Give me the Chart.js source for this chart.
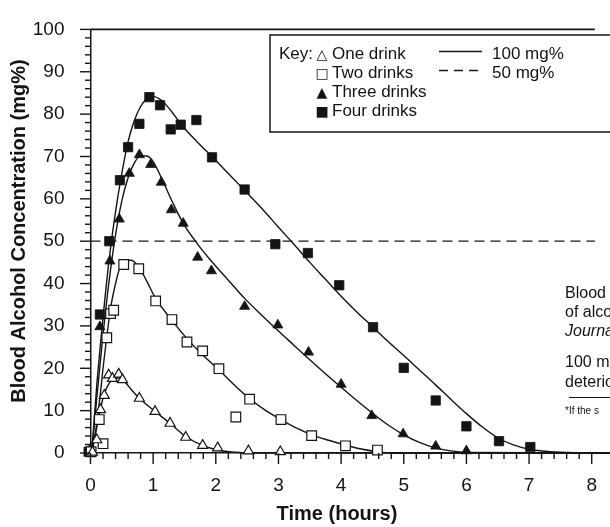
<!DOCTYPE html>
<html>
<head>
<meta charset="utf-8">
<script src="https://cdn.jsdelivr.net/npm/chart.js@4.4.1/dist/chart.umd.min.js"></script>
<style>
html,body{margin:0;padding:0;background:#fff;overflow:hidden}
canvas{display:block}
</style>
</head>
<body>
<canvas id="c" width="610" height="527"></canvas>
<script>
// ---------- data ----------
const yTickValues = [0, 10, 20, 30, 40, 50, 60, 70, 80, 90, 100];
const xTickValues = [0, 1, 2, 3, 4, 5, 6, 7, 8];

// measured points
const oneDrinkTimes    = [0.03, 0.10, 0.16, 0.22, 0.29, 0.35, 0.45, 0.51, 0.78, 1.03, 1.27, 1.52, 1.79, 2.03, 2.52, 3.03];
const oneDrinkValues   = [0.2, 3.1, 10.2, 13.6, 18.4, 17.6, 18.6, 17.3, 12.9, 9.8, 7.0, 3.7, 1.8, 1.2, 0.5, 0.3];
const twoDrinkTimes    = [0.01, 0.14, 0.20, 0.26, 0.32, 0.37, 0.53, 0.77, 1.04, 1.30, 1.54, 1.79, 2.05, 2.32, 2.54, 3.04, 3.53, 4.07, 4.58];
const twoDrinkValues   = [0.3, 7.9, 2.2, 27.2, 32.9, 33.7, 44.5, 43.5, 35.9, 31.5, 26.2, 24.1, 19.9, 8.5, 12.7, 7.9, 4.1, 1.7, 0.7];
const threeDrinkTimes  = [0.0, 0.15, 0.31, 0.46, 0.62, 0.78, 0.96, 1.13, 1.29, 1.48, 1.71, 1.93, 2.46, 2.99, 3.48, 4.00, 4.49, 4.99, 5.51, 6.00];
const threeDrinkValues = [1.0, 29.8, 45.3, 55.2, 66.0, 70.4, 68.1, 63.9, 57.4, 54.2, 46.2, 43.0, 34.6, 30.2, 23.8, 16.2, 8.8, 4.5, 1.6, 0.5];
const fourDrinkTimes   = [-0.03, 0.15, 0.30, 0.47, 0.60, 0.78, 0.94, 1.11, 1.28, 1.44, 1.69, 1.94, 2.46, 2.95, 3.47, 3.97, 4.51, 5.00, 5.51, 6.00, 6.52, 7.02];
const fourDrinkValues  = [0.3, 32.7, 50.0, 64.4, 72.2, 77.7, 84.0, 82.1, 76.4, 77.5, 78.6, 69.8, 62.2, 49.3, 47.2, 39.6, 29.7, 20.1, 12.4, 6.3, 2.8, 1.4];

// fitted curves
const oneCurveTimes    = [0.02, 0.10, 0.16, 0.22, 0.30, 0.38, 0.45, 0.52, 0.65, 0.78, 1.03, 1.27, 1.52, 1.79, 2.03, 2.30, 2.50, 8.30];
const oneCurveValues   = [0, 6, 10.5, 14, 16.5, 17.5, 17.7, 17.2, 15, 12.9, 9.8, 7.0, 3.9, 1.8, 0.7, 0.2, 0, 0];
const twoCurveTimes    = [0.02, 0.08, 0.15, 0.20, 0.26, 0.33, 0.40, 0.46, 0.55, 0.65, 0.79, 0.90, 1.04, 1.30, 1.54, 1.80, 2.06, 2.30, 2.54, 2.80, 3.04, 3.30, 3.53, 3.80, 4.06, 4.30, 4.58, 4.80, 8.30];
const twoCurveValues   = [0, 5, 13, 20, 27.5, 35, 40, 43.3, 45.2, 45.5, 43.5, 40.5, 36.5, 31.3, 27, 23, 19.5, 16, 12.8, 10, 7.9, 5.8, 4.3, 3, 1.9, 1, 0.3, 0, 0];
const threeCurveTimes  = [0.02, 0.10, 0.20, 0.30, 0.40, 0.50, 0.60, 0.70, 0.80, 0.90, 1.00, 1.13, 1.30, 1.48, 1.70, 1.90, 2.20, 2.46, 2.75, 3.00, 3.25, 3.50, 3.75, 4.00, 4.25, 4.50, 4.75, 5.00, 5.25, 5.50, 5.75, 6.00, 8.30];
const threeCurveValues = [0, 13, 28, 41, 51.5, 59.5, 65, 68.5, 70.2, 70.1, 68.8, 65, 59.5, 54.2, 49.5, 45.8, 40.8, 36.5, 32.3, 28.8, 25.4, 22, 18.7, 15.5, 12.4, 9.4, 6.6, 4.3, 2.5, 1.2, 0.5, 0.15, 0];
const fourCurveTimes   = [0.02, 0.10, 0.20, 0.30, 0.40, 0.50, 0.60, 0.70, 0.80, 0.90, 1.00, 1.10, 1.20, 1.30, 1.45, 1.70, 1.95, 2.20, 2.46, 2.75, 3.00, 3.25, 3.50, 3.75, 4.00, 4.25, 4.51, 4.75, 5.00, 5.25, 5.50, 5.75, 6.00, 6.25, 6.50, 6.75, 7.00, 7.50, 8.30];
const fourCurveValues  = [0, 16, 32, 46, 57, 66, 73.5, 78.5, 81.8, 83.6, 84.2, 83.6, 82.3, 80.5, 77.5, 73.5, 69.8, 66, 62, 57.5, 53.3, 49.2, 45, 41, 37, 33.3, 29.7, 26.3, 23, 19.6, 16.2, 12.7, 9.3, 6.2, 3.6, 1.9, 0.9, 0.2, 0];

// reference levels (mg%)
const referenceLevels = [100, 50];

// legend / annotation texts
const legendLabels  = ['One drink', 'Two drinks', 'Three drinks', 'Four drinks'];
const legendSymbols = ['\u25B3', '\u25A1', '\u25B2', '\u25A0'];
const referenceLabels = ['100 mg%', '50 mg%'];
const sideTextLines = ['Blood', 'of alco', 'Journa', '100 m', 'deterio'];
const footnoteText = '*If the s';
const xTitle = 'Time (hours)';
const yTitle = 'Blood Alcohol Concentration (mg%)';

// ---------- build ----------
const INK = '#141414';
const FONT = '"Liberation Sans", Arial, Helvetica, sans-serif';
const X_MAX = 8.05;
const pts = (xs, ys) => xs.map((x, i) => ({x: x, y: ys[i]}));

function markerSet(label, xs, ys, style, filled, r) {
  return {
    label, data: pts(xs, ys), showLine: false,
    pointStyle: style, pointRadius: r, pointHoverRadius: r,
    pointBackgroundColor: filled ? INK : '#ffffff',
    pointBorderColor: INK, pointBorderWidth: filled ? 0.8 : 1.2,
    clip: false
  };
}
function curveSet(label, xs, ys) {
  return {
    label, data: pts(xs, ys), showLine: true, pointRadius: 0,
    borderColor: INK, borderWidth: 1.4, fill: false,
    cubicInterpolationMode: 'monotone', clip: false
  };
}
function levelSet(label, level, dash) {
  return {
    label, data: [{x: 0, y: level}, {x: X_MAX, y: level}], showLine: true, pointRadius: 0,
    borderColor: INK, borderWidth: dash ? 1.3 : 1.6, borderDash: dash || [], fill: false, clip: false
  };
}

const decor = {
  id: 'decor',
  afterDraw(chart) {
    const ctx = chart.ctx;
    const xs = chart.scales.x, ys = chart.scales.y;
    const L = chart.chartArea.left, B = chart.chartArea.bottom;
    ctx.save();
    ctx.strokeStyle = INK; ctx.fillStyle = INK; ctx.lineWidth = 1.4;
    // y tick marks (major every 10, minor every 2)
    for (let v = 0; v <= 100; v += 2) {
      const y = ys.getPixelForValue(v);
      const len = v % 10 === 0 ? 10.5 : 5.5;
      ctx.beginPath(); ctx.moveTo(L - len, y); ctx.lineTo(L, y); ctx.stroke();
    }
    // x tick marks (major every 1 h, minor every 0.2 h)
    for (let i = 0; i * 0.2 <= X_MAX + 1e-9; i++) {
      const x = xs.getPixelForValue(i * 0.2);
      const len = i % 5 === 0 ? 11 : 6;
      ctx.beginPath(); ctx.moveTo(x, B); ctx.lineTo(x, B + len); ctx.stroke();
    }
    // axis titles
    ctx.font = 'bold 20px ' + FONT;
    ctx.textAlign = 'center'; ctx.textBaseline = 'alphabetic';
    ctx.fillText(xTitle, 337, 520);
    ctx.save();
    ctx.translate(19, 231);
    ctx.rotate(-Math.PI / 2);
    ctx.textBaseline = 'middle';
    ctx.fillText(yTitle, 0, 0);
    ctx.restore();
    ctx.textBaseline = 'alphabetic';

    // key box
    ctx.lineWidth = 1.5;
    ctx.strokeRect(270, 35, 360, 97);
    ctx.textAlign = 'left';
    ctx.font = '17px ' + FONT;
    ctx.fillText('Key:', 279, 59);
    const baselines = [59, 78, 97, 116];
    legendLabels.forEach((t, i) => {
      ctx.font = '14px "DejaVu Sans", sans-serif';
      ctx.textAlign = 'center';
      ctx.fillText(legendSymbols[i], 322, baselines[i] - 0.5);
      ctx.font = '17px ' + FONT;
      ctx.textAlign = 'left';
      ctx.fillText(t, 332, baselines[i]);
    });
    // reference line key
    ctx.lineWidth = 1.4;
    ctx.beginPath(); ctx.moveTo(439, 51.5); ctx.lineTo(482, 51.5); ctx.stroke();
    ctx.setLineDash([9, 6]);
    ctx.beginPath(); ctx.moveTo(439, 70.5); ctx.lineTo(482, 70.5); ctx.stroke();
    ctx.setLineDash([]);
    ctx.fillText(referenceLabels[0], 492, 59);
    ctx.fillText(referenceLabels[1], 492, 78);

    // side text (cut by the picture edge)
    ctx.font = '16px ' + FONT;
    ctx.fillText(sideTextLines[0], 565, 298);
    ctx.fillText(sideTextLines[1], 565, 317);
    ctx.font = 'italic 16px ' + FONT;
    ctx.fillText(sideTextLines[2], 565, 336);
    ctx.font = '16px ' + FONT;
    ctx.fillText(sideTextLines[3], 565, 367);
    ctx.fillText(sideTextLines[4], 565, 386.5);
    ctx.lineWidth = 1;
    ctx.beginPath(); ctx.moveTo(569, 397.5); ctx.lineTo(610, 397.5); ctx.stroke();
    ctx.font = '10px ' + FONT;
    ctx.fillText(footnoteText, 565, 414);
    ctx.restore();
  }
};

new Chart(document.getElementById('c'), {
  type: 'scatter',
  data: {
    datasets: [
      markerSet('One drink', oneDrinkTimes, oneDrinkValues, 'triangle', false, 5.8),
      markerSet('Two drinks', twoDrinkTimes, twoDrinkValues, 'rect', false, 6.8),
      markerSet('Three drinks', threeDrinkTimes, threeDrinkValues, 'triangle', true, 5.8),
      markerSet('Four drinks', fourDrinkTimes, fourDrinkValues, 'rect', true, 6.6),
      curveSet('One drink fit', oneCurveTimes, oneCurveValues),
      curveSet('Two drinks fit', twoCurveTimes, twoCurveValues),
      curveSet('Three drinks fit', threeCurveTimes, threeCurveValues),
      curveSet('Four drinks fit', fourCurveTimes, fourCurveValues),
      levelSet('100 mg%', referenceLevels[0], null),
      levelSet('50 mg%', referenceLevels[1], [10, 6])
    ]
  },
  options: {
    responsive: false,
    animation: false,
    events: [],
    layout: { autoPadding: false, padding: { top: 15.5, right: 0, bottom: 0, left: 0 } },
    plugins: { legend: { display: false }, tooltip: { enabled: false } },
    scales: {
      x: {
        type: 'linear', min: 0, max: X_MAX,
        afterFit(s) { s.height = 74; },
        afterBuildTicks(s) { s.ticks = xTickValues.map(v => ({value: v})); },
        grid: { display: false },
        border: { display: true, color: INK, width: 1.5 },
        ticks: { autoSkip: false, maxRotation: 0, includeBounds: false, padding: 13, color: INK, font: { family: FONT, size: 19 } }
      },
      y: {
        type: 'linear', min: 0, max: 100,
        afterFit(s) { s.width = 90.5; },
        afterBuildTicks(s) { s.ticks = yTickValues.map(v => ({value: v})); },
        grid: { display: false },
        border: { display: true, color: INK, width: 1.5 },
        ticks: { autoSkip: false, padding: 18, color: INK, font: { family: FONT, size: 19 } }
      }
    }
  },
  plugins: [decor]
});
</script>
</body>
</html>
